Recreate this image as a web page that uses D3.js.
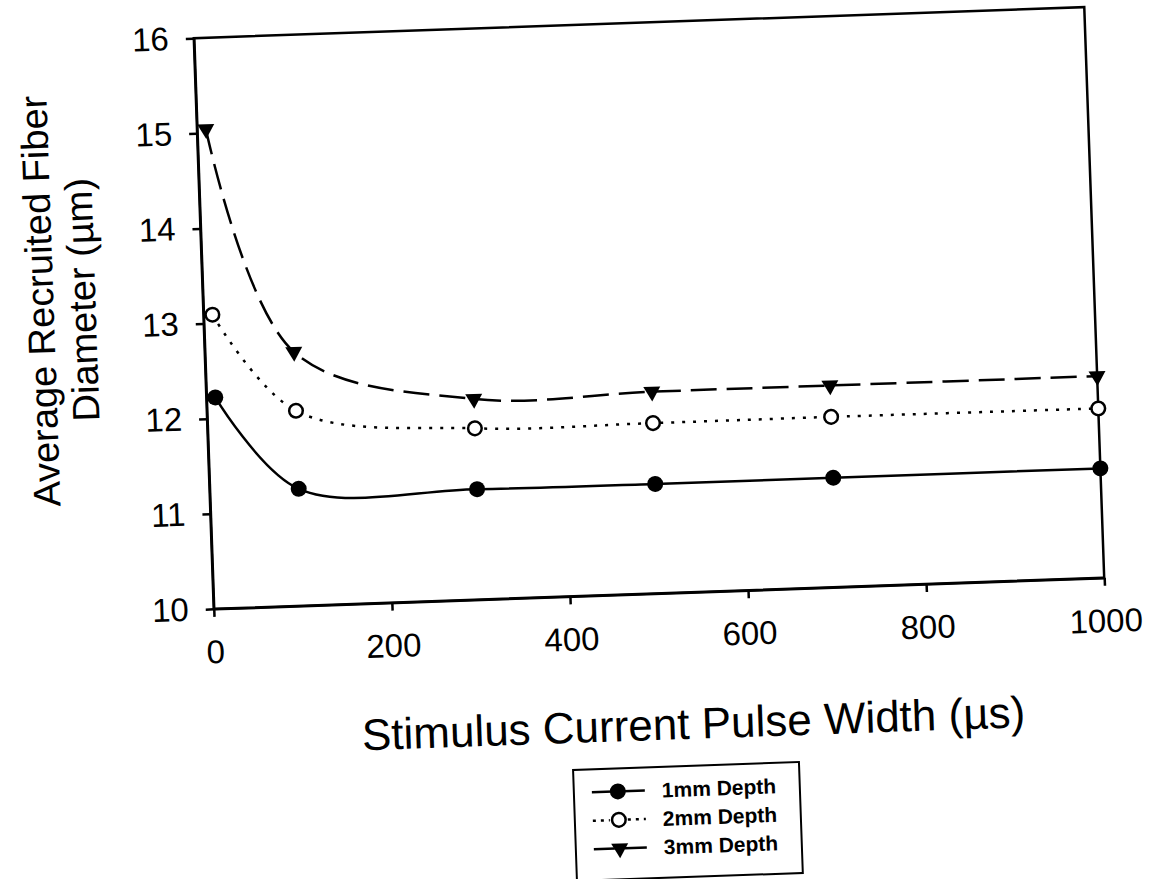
<!DOCTYPE html>
<html>
<head>
<meta charset="utf-8">
<script src="https://cdn.jsdelivr.net/npm/d3@7/dist/d3.min.js"></script>
<style>
  html, body { margin: 0; padding: 0; background: #fff; }
  svg { display: block; }
  .axis text { font-family: "Liberation Sans", Arial, sans-serif; font-size: 33px; fill: #000; }
  .axis path, .axis line { stroke: #000; stroke-width: 2.5; }
  .title { font-family: "Liberation Sans", Arial, sans-serif; fill: #000; }
  .legend text { font-family: "Liberation Sans", Arial, sans-serif; font-size: 21px; font-weight: bold; fill: #000; }
</style>
</head>
<body>
<script>
(function() {
  'use strict';

  // values
  var pulseWidths = [10, 100, 300, 500, 700, 1000];
  var depth1mm = [12.22, 11.23, 11.16, 11.15, 11.15, 11.15];
  var depth2mm = [13.09, 12.05, 11.80, 11.79, 11.79, 11.78];
  var depth3mm = [15.04, 12.67, 12.11, 12.12, 12.12, 12.12];
  var seriesNames = ['1mm Depth', '2mm Depth', '3mm Depth'];
  var xTicks = [0, 200, 400, 600, 800, 1000];
  var yTicks = [10, 11, 12, 13, 14, 15, 16];

  var width = 1156,
    height = 879,
    plot = { left: 203.5, right: 1094.5, top: 22.5, bottom: 593.5 },
    tilt = -2; // the scan sits slightly crooked

  var x = d3.scaleLinear().domain([0, 1000]).range([plot.left, plot.right]);
  var y = d3.scaleLinear().domain([10, 16]).range([plot.bottom, plot.top]);

  var svg = d3.select('body').append('svg')
    .attr('width', width)
    .attr('height', height);

  svg.append('rect').attr('width', width).attr('height', height).attr('fill', '#fff');

  var cx = (plot.left + plot.right) / 2,
    cy = (plot.top + plot.bottom) / 2;
  var g = svg.append('g')
    .attr('transform', 'rotate(' + tilt + ',' + cx + ',' + cy + ')');

  // frame
  g.append('rect')
    .attr('x', x(0))
    .attr('y', y(16))
    .attr('width', x(1000) - x(0))
    .attr('height', y(10) - y(16))
    .attr('fill', 'none')
    .attr('stroke', '#000')
    .attr('stroke-width', 2.5);

  g.append('g')
    .attr('class', 'axis')
    .attr('transform', 'translate(0,' + plot.bottom + ')')
    .call(d3.axisBottom(x).tickValues(xTicks).tickFormat(d3.format('d'))
      .tickSize(8).tickSizeOuter(0).tickPadding(23));

  g.append('g')
    .attr('class', 'axis')
    .attr('transform', 'translate(' + plot.left + ',0)')
    .call(d3.axisLeft(y).tickValues(yTicks).tickFormat(d3.format('d'))
      .tickSize(8).tickSizeOuter(0).tickPadding(17));

  var series = [
    { name: seriesNames[0], values: depth1mm, dash: null, marker: 'filled' },
    { name: seriesNames[1], values: depth2mm, dash: '3,8', marker: 'open' },
    { name: seriesNames[2], values: depth3mm, dash: '26,10', marker: 'triangle' }
  ];

  var line = d3.line()
    .x(function(d) { return x(d[0]); })
    .y(function(d) { return y(d[1]); })
    .curve(d3.curveCatmullRom.alpha(0.5));

  var drawMarker = function(sel, kind) {
    if (kind === 'triangle') {
      sel.append('path')
        .attr('d', d3.symbol(d3.symbolTriangle, 125)())
        .attr('fill', '#000');
    } else {
      sel.append('circle')
        .attr('r', kind === 'open' ? 6.8 : 8)
        .attr('fill', kind === 'open' ? '#fff' : '#000')
        .attr('stroke', '#000')
        .attr('stroke-width', kind === 'open' ? 2.5 : 0);
    }
  };

  series.forEach(function(s) {
    var pts = pulseWidths.map(function(p, i) { return [p, s.values[i]]; });
    g.append('path')
      .datum(pts)
      .attr('d', line)
      .attr('fill', 'none')
      .attr('stroke', '#000')
      .attr('stroke-width', 2.5)
      .attr('stroke-dasharray', s.dash);

    var m = g.append('g').selectAll('g')
      .data(pts)
      .enter().append('g')
      .attr('transform', function(d) {
        var t = 'translate(' + x(d[0]) + ',' + y(d[1]) + ')';
        return s.marker === 'triangle' ? t + ' rotate(180)' : t;
      });
    drawMarker(m, s.marker);
  });

  // axis titles
  var yTitle = g.append('text')
    .attr('class', 'title')
    .attr('transform', 'translate(54,280) rotate(-90)')
    .attr('text-anchor', 'middle')
    .style('font-size', '38px');
  yTitle.append('tspan').attr('x', 0).attr('y', 0).text('Average Recruited Fiber');
  yTitle.append('tspan').attr('x', 0).attr('y', 42).text('Diameter (\u00b5m)');

  g.append('text')
    .attr('class', 'title')
    .attr('x', 679)
    .attr('y', 740)
    .attr('text-anchor', 'middle')
    .style('font-size', '44px')
    .text('Stimulus Current Pulse Width (\u00b5s)');

  // legend
  var legend = g.append('g').attr('class', 'legend');
  legend.append('rect')
    .attr('x', 557)
    .attr('y', 767)
    .attr('width', 226)
    .attr('height', 111)
    .attr('fill', '#fff')
    .attr('stroke', '#000')
    .attr('stroke-width', 2);

  var rows = legend.selectAll('g.row')
    .data(series)
    .enter().append('g')
    .attr('class', 'row')
    .attr('transform', function(d, i) { return 'translate(601,' + (790 + i * 28.5) + ')'; });

  rows.each(function(s) {
    var r = d3.select(this);
    var dotted = s.dash === '3,8';
    [[-26, dotted ? -9 : -5], [dotted ? 9 : 5, 27]].forEach(function(seg) {
      r.append('line')
        .attr('x1', seg[0]).attr('x2', seg[1])
        .attr('stroke', '#000')
        .attr('stroke-width', 2.5)
        .attr('stroke-dasharray', dotted ? '3,5' : null);
    });
    var m = r.append('g').attr('transform', s.marker === 'triangle' ? 'rotate(180)' : null);
    drawMarker(m, s.marker);
    r.append('text')
      .attr('x', 44)
      .attr('dy', '0.36em')
      .text(s.name);
  });
}).call(this);
</script>
</body>
</html>
